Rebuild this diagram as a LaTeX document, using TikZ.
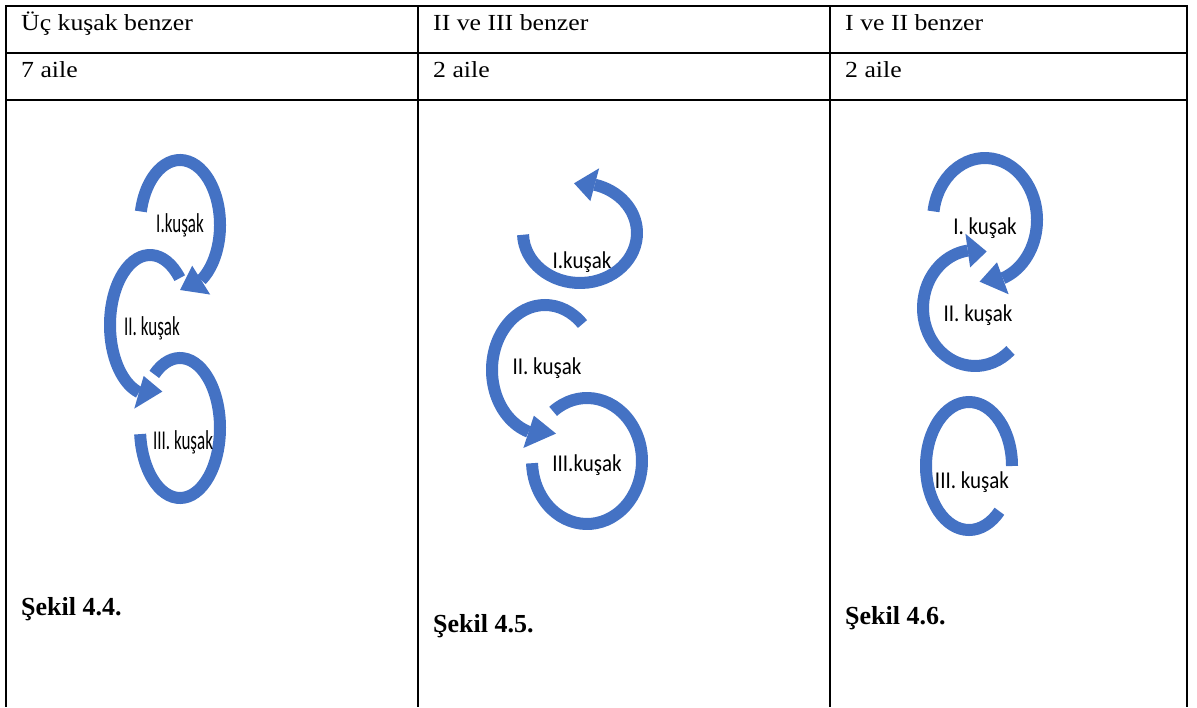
\documentclass[tikz,border=0pt]{standalone}
\usepackage{fontspec}
\setmainfont{Liberation Serif}
\newfontfamily\etiketfont{Carlito}
\definecolor{kusakmavi}{RGB}{68,114,196}
\tikzset{
  cizgi/.style={line width=2.5pt},
  kusak/.style={draw=kusakmavi, line width=12pt},
  ucgen/.style={fill=kusakmavi},
  hucre/.style={anchor=base west, font=\fontsize{23}{27}\selectfont, xscale=1.12},
  sekil/.style={anchor=base west, font=\fontsize{26}{30}\selectfont\bfseries},
  etiketdar/.style={font=\etiketfont\fontsize{17}{20}\selectfont, yscale=1.6},
  etiket/.style={font=\etiketfont\fontsize{21}{25}\selectfont, yscale=1.15}
}
\begin{document}
\begin{tikzpicture}[x=1pt,y=1pt]
\tikzstyle{every node}+=[inner sep=0pt]
\useasboundingbox (0,0) rectangle (1197,-707);
% table
\foreach \x in {6,418,830,1187}
  \draw[cizgi] (\x,-5) -- (\x,-707);
\foreach \y in {-6,-53,-100}
  \draw[cizgi] (5,\y) -- (1188,\y);
\node[hucre] (b1) at (21,-30) {Üç kuşak benzer};
\node[hucre] (b2) at (433,-30) {II ve III benzer};
\node[hucre] (b3) at (845,-30) {I ve II benzer};
\node[hucre] (a1) at (21,-77) {7 aile};
\node[hucre] (a2) at (433,-77) {2 aile};
\node[hucre] (a3) at (845,-77) {2 aile};
% Sekil 4.4
\coordinate (m1a) at (180,-225);
\coordinate (m1b) at (150,-325);
\coordinate (m1c) at (180,-428);
\draw[kusak] ([shift={(130:40 and 70)}]m1c) arc (130:-175:40 and 70);
\draw[kusak] ([shift={(42:40 and 70)}]m1b) arc (42:254:40 and 70);
\fill[ucgen] ([shift={(254:57 and 87)}]m1b) -- ([shift={(254:23 and 53)}]m1b) -- ([shift={(288:40 and 70)}]m1b) -- cycle;
\draw[kusak] ([shift={(168:40 and 65)}]m1a) arc (168:-58:40 and 65);
\fill[ucgen] ([shift={(-58:57 and 82)}]m1a) -- ([shift={(-58:23 and 48)}]m1a) -- ([shift={(-90:40 and 65)}]m1a) -- cycle;
\node[etiketdar] (k1a) at (180,-225) {I.kuşak};
\node[etiketdar] (k1b) at (152,-328) {II. kuşak};
\node[etiketdar] (k1c) at (183,-442) {III. kuşak};
\node[sekil] (s1) at (21,-615) {Şekil 4.4.};
% Sekil 4.5
\coordinate (m2a) at (580,-233);
\coordinate (m2b) at (545,-370);
\coordinate (m2c) at (587,-461);
\draw[kusak] ([shift={(182:57 and 50)}]m2a) arc (182:435:57 and 50);
\fill[ucgen] ([shift={(75:74 and 67)}]m2a) -- ([shift={(75:40 and 33)}]m2a) -- ([shift={(96:57 and 50)}]m2a) -- cycle;
\draw[kusak] ([shift={(128:55 and 63)}]m2c) arc (128:-178:55 and 63);
\draw[kusak] ([shift={(45:53 and 65)}]m2b) arc (45:252:53 and 65);
\fill[ucgen] ([shift={(252:70 and 82)}]m2b) -- ([shift={(252:36 and 48)}]m2b) -- ([shift={(282:53 and 65)}]m2b) -- cycle;
\node[etiket] (k2a) at (582,-262) {I.kuşak};
\node[etiket] (k2b) at (547,-368) {II. kuşak};
\node[etiket] (k2c) at (587,-465) {III.kuşak};
\node[sekil] (s2) at (433,-632) {Şekil 4.5.};
% Sekil 4.6
\coordinate (m3a) at (985,-220);
\coordinate (m3b) at (975,-308);
\coordinate (m3c) at (969,-466);
\draw[kusak] ([shift={(-47:52 and 58)}]m3b) arc (-47:-262:52 and 58);
\fill[ucgen] ([shift={(-262:69 and 75)}]m3b) -- ([shift={(-262:35 and 41)}]m3b) -- ([shift={(-283:52 and 58)}]m3b) -- cycle;
\draw[kusak] ([shift={(172:52 and 62)}]m3a) arc (172:-70:52 and 62);
\fill[ucgen] ([shift={(-70:69 and 79)}]m3a) -- ([shift={(-70:35 and 45)}]m3a) -- ([shift={(-96:52 and 62)}]m3a) -- cycle;
\draw[kusak] ([shift={(0:43 and 64)}]m3c) arc (0:315:43 and 64);
\node[etiket] (k3a) at (985,-228) {I. kuşak};
\node[etiket] (k3b) at (978,-315) {II. kuşak};
\node[etiket] (k3c) at (972,-482) {III. kuşak};
\node[sekil] (s3) at (845,-624) {Şekil 4.6.};
\end{tikzpicture}
\end{document}
